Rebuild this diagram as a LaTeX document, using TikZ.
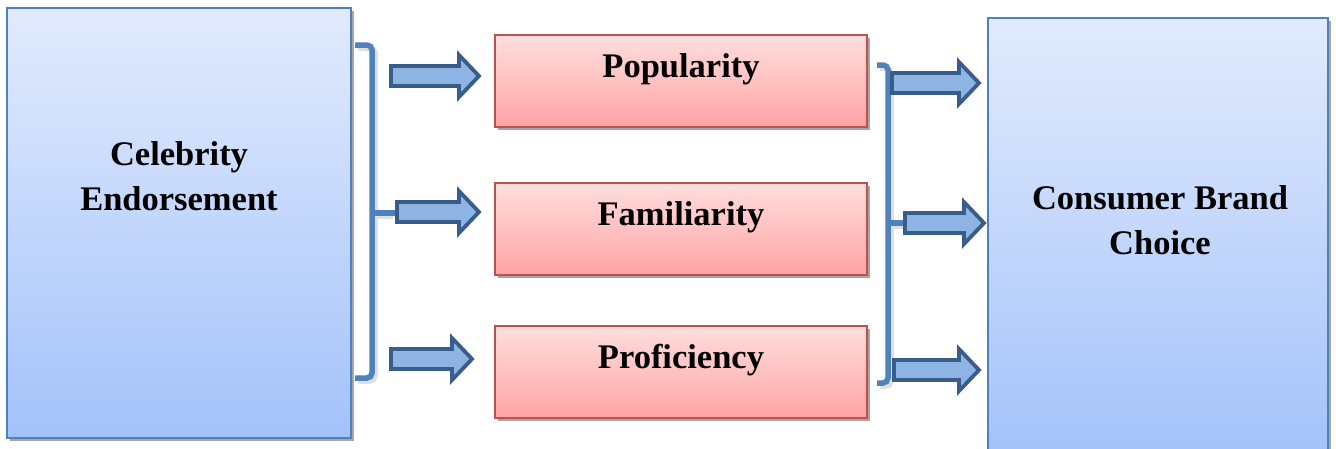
\documentclass[tikz,border=0pt]{standalone}
\usepackage{fontspec}
\setmainfont{Liberation Serif}
\usetikzlibrary{shadows}
\definecolor{bluetop}{RGB}{226,235,253}
\definecolor{bluebot}{RGB}{163,194,250}
\definecolor{blueedge}{RGB}{79,129,189}
\definecolor{pinktop}{RGB}{255,222,222}
\definecolor{pinkbot}{RGB}{255,164,164}
\definecolor{rededge}{RGB}{192,80,77}
\definecolor{arrowfill}{RGB}{141,180,226}
\definecolor{arrowedge}{RGB}{56,93,138}
\tikzset{
  boxshadow/.style={drop shadow={shadow xshift=2.5pt, shadow yshift=-3pt, fill=black, opacity=0.35}},
  bigbox/.style={draw=blueedge, line width=1.8pt, top color=bluetop, bottom color=bluebot,
    inner sep=0pt, boxshadow},
  factor/.style={draw=rededge, line width=1.8pt, top color=pinktop, bottom color=pinkbot,
    inner sep=0pt, minimum width=372pt, minimum height=92pt, boxshadow},
  label/.style={font=\fontsize{34.5}{45}\selectfont\bfseries, align=center, inner sep=0pt},
  bracket/.style={draw=blueedge, line width=5.5pt, rounded corners=5pt},
  bracketshade/.style={draw=black!12, line width=5.5pt, rounded corners=5pt},
  blockarrow/.style={draw=arrowedge, fill=arrowfill, line width=3.8pt, line join=miter},
}
% block arrow from (#1,#3) to (#2,#3), head starting at #2-20
\newcommand\blockarrow[3]{%
  \path[blockarrow] (#1,#3-10) -- ({#2-20},#3-10) -- ({#2-20},#3-21) -- (#2,#3)
    -- ({#2-20},#3+21) -- ({#2-20},#3+10) -- (#1,#3+10) -- cycle;}
\begin{document}
\begin{tikzpicture}[x=1pt,y=-1pt]
\useasboundingbox (0,0) rectangle (1336,448);

% outer boxes
\node[bigbox, minimum width=344pt, minimum height=430pt] (ce) at (179,223) {};
\node[label] (celbl) at (179,176) {Celebrity\\Endorsement};
\node[bigbox, minimum width=340pt, minimum height=440pt] (cbc) at (1158,238) {};
\node[label] (cbclbl) at (1160,220) {Consumer Brand\\Choice};

% factor boxes
\node[factor] (pop) at (681,81) {};
\node[label] at (pop.center) [yshift=12pt] (poplbl) {Popularity};
\node[factor] (fam) at (681,229) {};
\node[label] at (fam.center) [yshift=12pt] (famlbl) {Familiarity};
\node[factor] (pro) at (681,372) {};
\node[label] at (pro.center) [yshift=12pt] (prolbl) {Proficiency};

% left bracket
\draw[bracketshade] (358,48) -- (375,48) -- (375,381) -- (358,381);
\draw[bracketshade] (375,216) -- (393,216);
\draw[bracket] (355,45) -- (372,45) -- (372,378) -- (355,378);
\draw[bracket, rounded corners=0pt] (372,213) -- (395,213);

% right bracket
\draw[bracketshade] (880,68) -- (891,68) -- (891,386) -- (880,386);
\draw[bracketshade] (891,226) -- (903,226);
\draw[bracket] (877,65) -- (888,65) -- (888,383) -- (877,383);
\draw[bracket, rounded corners=0pt] (888,223) -- (905,223);

% block arrows
\blockarrow{391}{479}{76}
\blockarrow{397}{479}{212}
\blockarrow{391}{472}{359}
\blockarrow{892}{979}{83}
\blockarrow{905}{984}{223}
\blockarrow{894}{979}{370}
\end{tikzpicture}
\end{document}
